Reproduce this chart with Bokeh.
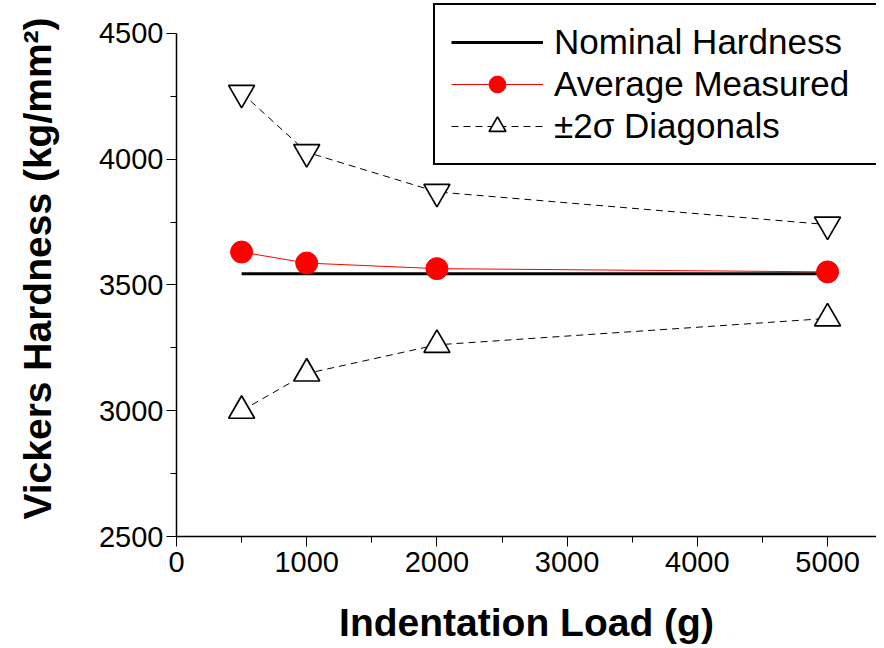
from bokeh.plotting import figure
from bokeh.models import Range1d, Legend, LegendItem, SingleIntervalTicker
from bokeh.embed import file_html
from bokeh.resources import INLINE

# ---- data ----
load = [500, 1000, 2000, 5000]
avg_measured = [3631, 3587, 3565, 3552]
upper_2sigma = [4264, 4028, 3870, 3740]
lower_2sigma = [3000, 3148, 3262, 3367]
nominal_x = [500, 5000]
nominal_y = [3545, 3545]

x_ticks = [0, 1000, 2000, 3000, 4000, 5000]
y_ticks = [2500, 3000, 3500, 4000, 4500]

p = figure(width=876, height=646, output_backend="svg", toolbar_location=None,
           x_range=Range1d(0, 5376), y_range=Range1d(2500, 4631),
           min_border_left=176, min_border_right=0, min_border_top=0, min_border_bottom=109)
p.outline_line_color = None
p.xgrid.visible = False
p.ygrid.visible = False
p.background_fill_color = "white"
p.border_fill_color = "white"

nom = p.line(nominal_x, nominal_y, line_color="black", line_width=3)
red_l = p.line(load, avg_measured, line_color="red", line_width=1)
red_c = p.scatter(load, avg_measured, marker="circle", size=22, fill_color="red", line_color="red")
up_l = p.line(load, upper_2sigma, line_color="black", line_width=1, line_dash="7 5")
up_t = p.scatter(load, upper_2sigma, marker="inverted_triangle", size=26, fill_color="white",
                 line_color="black", line_width=1.7)
lo_l = p.line(load, lower_2sigma, line_color="black", line_width=1, line_dash="7 5")
lo_t = p.scatter(load, lower_2sigma, marker="triangle", size=26, fill_color="white",
                 line_color="black", line_width=1.7)

for ax in (p.xaxis[0], p.yaxis[0]):
    ax.axis_line_width = 1.5
    ax.axis_line_color = "black"
    ax.major_tick_line_color = "black"
    ax.minor_tick_line_color = "black"
    ax.major_tick_in = 0
    ax.major_tick_out = 10
    ax.minor_tick_in = 0
    ax.minor_tick_out = 6
    ax.major_label_text_font = "Liberation Sans"
    ax.major_label_text_font_size = "29px"
    ax.major_label_text_color = "black"
    ax.axis_label_text_font = "Liberation Sans"
    ax.axis_label_text_font_style = "bold"
    ax.axis_label_text_font_size = "39px"
    ax.axis_label_text_color = "black"

p.xaxis[0].ticker = SingleIntervalTicker(interval=1000, num_minor_ticks=2)
p.yaxis[0].ticker = SingleIntervalTicker(interval=500, num_minor_ticks=2)
p.yaxis[0].bounds = (y_ticks[0], y_ticks[-1])
p.xaxis[0].axis_label = "Indentation Load (g)"
p.yaxis[0].axis_label = "Vickers Hardness (kg/mm\u00b2)"
p.xaxis[0].major_label_standoff = 5
p.yaxis[0].major_label_standoff = 3
p.xaxis[0].axis_label_standoff = 26
p.yaxis[0].axis_label_standoff = 37

legend = Legend(items=[
    LegendItem(label="Nominal Hardness", renderers=[nom]),
    LegendItem(label="Average Measured", renderers=[red_l, red_c]),
    LegendItem(label="\u00b12\u03c3 Diagonals", renderers=[lo_l, lo_t]),
], location=(257, 371))
legend.label_text_font = "Liberation Sans"
legend.label_text_font_size = "35px"
legend.label_text_color = "black"
legend.padding = 16
legend.spacing = 0
legend.glyph_width = 92
legend.glyph_height = 42
legend.label_height = 42
legend.label_width = 312
legend.label_standoff = 11
legend.border_line_color = "black"
legend.border_line_alpha = 1.0
legend.border_line_width = 2.5
legend.background_fill_color = "white"
legend.background_fill_alpha = 1.0
legend.margin = 0
p.add_layout(legend, "center")

open("out.html", "w").write(file_html(p, INLINE))
